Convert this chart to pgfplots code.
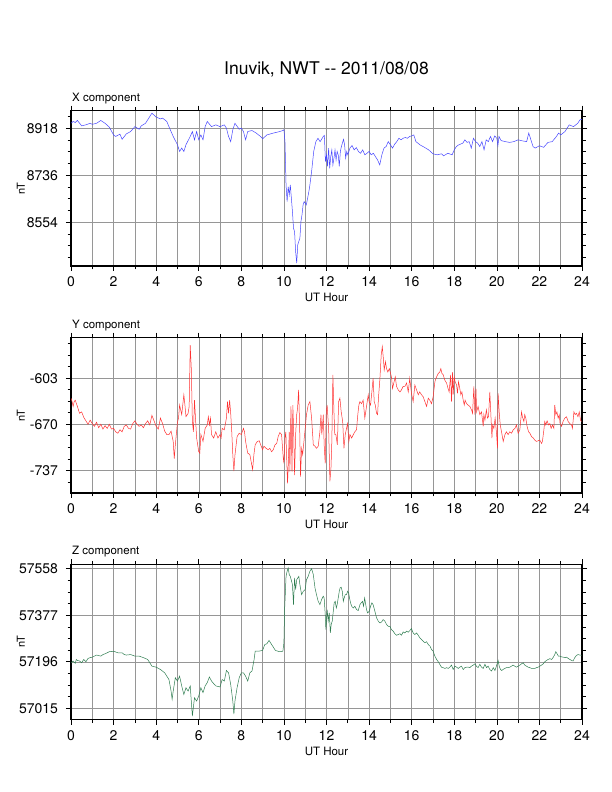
\documentclass[border=0pt]{standalone}
\usepackage{pgfplots}
\pgfplotsset{compat=1.18}
\usepackage{pgfplotstable}
\usepackage{fontspec}
\setmainfont{TeX Gyre Heros}
\definecolor{xcol}{RGB}{70,70,255}
\definecolor{ycol}{RGB}{255,50,50}
\definecolor{zcol}{RGB}{46,125,80}
\definecolor{gridc}{RGB}{150,150,150}

\pgfplotstableread{
h v
0 8937
0.1 8944
0.2 8940
0.3 8948
0.5 8927
0.7 8931
0.9 8937
1.0 8933
1.2 8937
1.4 8948
1.6 8937
1.8 8922
2.0 8892
2.1 8886
2.3 8895
2.4 8875
2.6 8896
2.8 8905
3.0 8924
3.2 8914
3.3 8927
3.5 8937
3.7 8963
3.8 8976
4.0 8961
4.2 8954
4.3 8957
4.5 8944
4.6 8924
4.8 8886
5.0 8854
5.1 8828
5.2 8841
5.3 8828
5.4 8854
5.6 8886
5.7 8905
5.8 8873
5.9 8905
6.0 8873
6.1 8892
6.2 8873
6.3 8924
6.4 8944
6.6 8924
6.8 8931
7.0 8924
7.2 8931
7.3 8918
7.4 8886
7.5 8866
7.6 8912
7.7 8937
7.9 8914
8.0 8918
8.1 8905
8.2 8873
8.3 8905
8.5 8909
8.7 8899
8.9 8886
9.0 8877
9.2 8892
9.5 8899
9.8 8905
9.95 8909
10.0 8912
10.05 8866
10.1 8699
10.15 8634
10.2 8692
10.25 8660
10.3 8699
10.35 8647
10.4 8596
10.45 8531
10.5 8518
10.55 8441
10.6 8396
10.65 8467
10.7 8480
10.75 8492
10.8 8557
10.85 8583
10.9 8621
10.95 8634
11.0 8628
11.05 8621
11.1 8641
11.2 8686
11.3 8750
11.4 8828
11.5 8866
11.6 8879
11.7 8866
11.8 8879
11.85 8886
11.9 8890
11.95 8789
12.0 8815
12.05 8770
12.1 8841
12.15 8763
12.2 8808
12.25 8834
12.3 8776
12.35 8802
12.4 8834
12.45 8795
12.5 8828
12.55 8815
12.6 8770
12.65 8828
12.7 8847
12.8 8875
12.85 8854
12.9 8802
12.95 8828
13.0 8815
13.1 8841
13.2 8851
13.3 8834
13.4 8843
13.5 8828
13.6 8821
13.7 8834
13.8 8815
13.9 8821
14.0 8828
14.1 8815
14.2 8821
14.3 8808
14.4 8795
14.5 8776
14.6 8815
14.7 8841
14.8 8847
14.9 8866
15.0 8854
15.1 8841
15.2 8856
15.3 8866
15.4 8879
15.5 8873
15.6 8879
15.7 8882
15.8 8879
15.9 8886
16.0 8888
16.1 8892
16.2 8866
16.4 8853
16.6 8844
16.8 8834
17.0 8819
17.2 8815
17.4 8819
17.5 8811
17.7 8821
17.9 8815
18.0 8834
18.1 8847
18.2 8853
18.4 8860
18.5 8873
18.6 8863
18.7 8866
18.8 8841
18.9 8879
19.0 8866
19.1 8860
19.2 8847
19.3 8866
19.4 8834
19.5 8873
19.6 8866
19.7 8886
19.8 8866
19.9 8888
20.0 8879
20.05 8850
20.1 8886
20.2 8870
20.4 8866
20.6 8863
20.8 8866
21.0 8873
21.2 8869
21.4 8866
21.5 8899
21.6 8873
21.7 8847
21.8 8841
22.0 8850
22.2 8844
22.4 8863
22.6 8866
22.8 8886
22.9 8899
23.0 8892
23.2 8905
23.4 8931
23.6 8924
23.8 8937
23.9 8950
24.0 8953
}\xdata

\pgfplotstableread{
h v
0.0 -632
0.05 -637
0.1 -644
0.15 -637
0.2 -635
0.3 -644
0.4 -654
0.5 -652
0.6 -660
0.7 -665
0.8 -670
0.9 -664
1.0 -669
1.1 -673
1.2 -667
1.3 -675
1.4 -670
1.5 -677
1.6 -672
1.7 -676
1.8 -670
1.9 -677
2.0 -676
2.1 -681
2.2 -683
2.3 -678
2.4 -681
2.5 -673
2.6 -671
2.7 -676
2.8 -677
2.9 -669
3.0 -665
3.1 -670
3.2 -673
3.3 -671
3.4 -675
3.5 -669
3.6 -665
3.7 -671
3.8 -657
3.9 -665
4.0 -673
4.1 -677
4.2 -661
4.3 -669
4.4 -680
4.5 -685
4.6 -685
4.7 -680
4.8 -695
4.85 -720
4.9 -700
5.0 -667
5.05 -661
5.1 -642
5.2 -656
5.3 -627
5.35 -642
5.4 -659
5.5 -654
5.55 -644
5.6 -555
5.65 -589
5.7 -666
5.75 -681
5.8 -635
5.9 -690
6.0 -710
6.05 -712
6.1 -685
6.2 -695
6.3 -676
6.4 -671
6.45 -659
6.5 -671
6.55 -661
6.6 -685
6.7 -690
6.8 -681
6.9 -690
7.0 -685
7.05 -690
7.1 -676
7.2 -678
7.3 -661
7.35 -637
7.4 -654
7.45 -635
7.5 -654
7.55 -681
7.6 -715
7.65 -738
7.7 -715
7.8 -688
7.9 -683
8.0 -685
8.1 -676
8.15 -681
8.2 -695
8.3 -712
8.4 -714
8.53 -736
8.59 -714
8.65 -700
8.75 -695
8.84 -694
8.91 -700
9.0 -707
9.06 -702
9.16 -705
9.26 -707
9.34 -705
9.42 -710
9.50 -707
9.58 -700
9.66 -698
9.73 -688
9.81 -682
9.89 -685
9.97 -719
10.0 -727
10.05 -690
10.09 -681
10.13 -719
10.17 -756
10.20 -734
10.25 -681
10.28 -739
10.33 -644
10.38 -739
10.42 -642
10.46 -685
10.50 -744
10.55 -685
10.60 -656
10.64 -647
10.69 -620
10.74 -676
10.78 -746
10.83 -705
10.88 -714
10.94 -695
11.0 -676
11.06 -656
11.14 -642
11.22 -637
11.30 -661
11.38 -700
11.46 -702
11.53 -705
11.61 -702
11.69 -681
11.74 -656
11.78 -685
11.85 -656
11.89 -700
11.94 -727
11.99 -652
12.03 -642
12.10 -676
12.16 -753
12.21 -734
12.25 -695
12.30 -598
12.35 -652
12.39 -685
12.44 -685
12.51 -700
12.57 -637
12.63 -632
12.69 -652
12.76 -666
12.82 -705
12.88 -685
12.94 -676
12.99 -669
13.05 -695
13.10 -685
13.18 -690
13.26 -685
13.33 -681
13.41 -678
13.47 -656
13.52 -642
13.57 -637
13.65 -640
13.72 -635
13.80 -661
13.88 -644
13.96 -627
14.0 -637
14.07 -642
14.13 -623
14.19 -603
14.24 -637
14.29 -642
14.35 -654
14.40 -656
14.44 -632
14.51 -603
14.57 -569
14.62 -557
14.67 -574
14.71 -591
14.77 -579
14.82 -589
14.88 -594
14.95 -589
15.01 -596
15.06 -603
15.10 -618
15.16 -610
15.23 -601
15.29 -615
15.37 -620
15.45 -623
15.52 -620
15.60 -615
15.68 -615
15.76 -610
15.84 -623
15.91 -603
15.99 -625
16.07 -637
16.15 -613
16.23 -620
16.31 -627
16.38 -623
16.46 -627
16.54 -630
16.62 -637
16.70 -644
16.78 -632
16.85 -635
16.93 -640
17.01 -630
17.09 -608
17.17 -601
17.25 -596
17.32 -594
17.37 -589
17.42 -596
17.48 -598
17.56 -606
17.64 -610
17.71 -618
17.76 -623
17.83 -598
17.87 -637
17.92 -594
17.95 -627
18.0 -601
18.04 -608
18.11 -613
18.15 -625
18.20 -608
18.26 -618
18.31 -627
18.36 -623
18.42 -635
18.47 -642
18.51 -635
18.58 -640
18.65 -642
18.73 -644
18.81 -649
18.86 -654
18.92 -615
18.97 -656
19.02 -618
19.05 -652
19.12 -644
19.20 -656
19.28 -652
19.36 -673
19.39 -656
19.44 -664
19.51 -649
19.56 -661
19.61 -659
19.67 -623
19.72 -656
19.77 -690
19.80 -671
19.86 -676
19.92 -661
19.99 -685
20.03 -705
20.06 -625
20.11 -652
20.16 -671
20.22 -681
20.30 -695
20.38 -685
20.45 -681
20.53 -685
20.61 -681
20.69 -683
20.77 -678
20.85 -676
20.92 -671
21.0 -683
21.08 -678
21.16 -652
21.20 -659
21.27 -666
21.31 -656
21.36 -661
21.42 -673
21.49 -681
21.55 -683
21.63 -688
21.71 -690
21.78 -693
21.86 -695
21.94 -694
22.02 -693
22.10 -698
22.14 -695
22.21 -678
22.25 -666
22.30 -671
22.36 -665
22.43 -671
22.49 -669
22.55 -676
22.61 -671
22.68 -676
22.72 -642
22.77 -656
22.82 -652
22.88 -661
22.93 -656
22.97 -669
23.04 -673
23.11 -666
23.19 -661
23.27 -659
23.35 -666
23.43 -669
23.51 -671
23.55 -676
23.62 -652
23.68 -656
23.74 -654
23.81 -659
23.87 -652
23.93 -664
23.98 -666
}\ydata

\pgfplotstableread{
h v
0.0 57192
0.1 57199
0.2 57190
0.25 57205
0.3 57201
0.4 57199
0.5 57192
0.6 57205
0.7 57196
0.8 57209
0.9 57212
1.0 57214
1.2 57222
1.4 57218
1.5 57224
1.6 57227
1.7 57231
1.8 57235
2.0 57237
2.2 57231
2.4 57231
2.5 57224
2.6 57222
2.8 57224
3.0 57218
3.2 57218
3.4 57212
3.6 57205
3.7 57192
3.8 57179
4.0 57175
4.2 57166
4.4 57153
4.5 57140
4.6 57127
4.7 57082
4.75 57050
4.8 57082
4.9 57134
5.0 57121
5.1 57140
5.2 57102
5.3 57069
5.4 57095
5.5 57082
5.6 57102
5.65 57043
5.7 56985
5.8 57056
5.9 57043
6.0 57063
6.1 57095
6.2 57076
6.3 57102
6.4 57115
6.5 57137
6.6 57121
6.7 57111
6.8 57102
7.0 57098
7.1 57127
7.2 57121
7.3 57162
7.4 57153
7.5 57108
7.6 57043
7.65 56992
7.7 57043
7.8 57095
7.9 57134
8.0 57153
8.1 57153
8.2 57140
8.3 57121
8.4 57153
8.5 57160
8.6 57205
8.65 57237
8.8 57237
9.0 57240
9.1 57263
9.2 57266
9.3 57279
9.4 57266
9.5 57253
9.6 57240
9.8 57235
9.95 57237
10.0 57270
10.03 57393
10.1 57528
10.15 57548
10.2 57561
10.25 57535
10.3 57528
10.4 57496
10.45 57418
10.5 57522
10.55 57477
10.6 57515
10.7 57528
10.75 57496
10.83 57457
10.91 57470
11.0 57477
11.06 57515
11.14 57528
11.22 57548
11.30 57558
11.38 57535
11.46 57483
11.53 57457
11.61 57431
11.69 57418
11.77 57438
11.85 57451
11.89 57444
11.94 57380
11.97 57321
12.0 57354
12.03 57399
12.08 57354
12.13 57386
12.18 57308
12.22 57341
12.27 57354
12.32 57393
12.36 57425
12.41 57431
12.46 57405
12.50 57418
12.55 57444
12.60 57470
12.64 57483
12.69 57486
12.74 57470
12.79 57431
12.83 57444
12.88 57457
12.94 57457
12.99 57470
13.04 57464
13.08 57444
13.13 57425
13.18 57412
13.26 57405
13.33 57412
13.41 57399
13.49 57395
13.57 57418
13.63 57425
13.69 57431
13.74 57412
13.79 57444
13.83 57425
13.88 57399
13.93 57386
14.01 57393
14.07 57412
14.13 57425
14.19 57418
14.27 57393
14.35 57367
14.43 57354
14.51 57347
14.59 57351
14.66 57360
14.74 57354
14.82 57341
14.90 57334
14.98 57334
15.05 57321
15.13 57315
15.21 57305
15.29 57299
15.37 57302
15.45 57305
15.52 57299
15.60 57312
15.68 57308
15.76 57315
15.84 57311
15.92 57318
15.99 57325
16.07 57308
16.15 57302
16.23 57308
16.31 57299
16.38 57289
16.46 57283
16.54 57276
16.62 57270
16.70 57274
16.78 57263
16.86 57257
16.93 57244
17.01 57237
17.09 57218
17.17 57205
17.25 57196
17.32 57186
17.40 57175
17.48 57173
17.56 57170
17.64 57173
17.72 57170
17.79 57175
17.87 57183
17.95 57166
18.03 57179
18.11 57175
18.19 57170
18.26 57175
18.34 57179
18.42 57166
18.50 57173
18.58 57175
18.66 57175
18.73 57173
18.81 57179
18.89 57183
18.97 57188
19.04 57179
19.12 57173
19.20 57186
19.28 57175
19.36 57170
19.44 57186
19.52 57173
19.59 57179
19.67 57166
19.75 57160
19.83 57173
19.91 57162
19.98 57179
20.06 57201
20.11 57179
20.17 57166
20.23 57162
20.29 57166
20.37 57170
20.45 57173
20.53 57173
20.61 57175
20.69 57179
20.76 57183
20.84 57179
20.92 57175
21.0 57179
21.08 57183
21.16 57188
21.24 57192
21.31 57183
21.39 57179
21.47 57175
21.55 57173
21.63 57170
21.71 57170
21.78 57170
21.86 57173
21.94 57175
22.02 57179
22.10 57183
22.18 57188
22.25 57196
22.33 57201
22.41 57205
22.49 57208
22.57 57205
22.64 57212
22.72 57224
22.77 57235
22.83 57227
22.89 57218
22.96 57218
23.04 57215
23.12 57214
23.19 57212
23.27 57214
23.35 57209
23.43 57205
23.51 57201
23.58 57199
23.66 57212
23.74 57221
23.82 57224
23.90 57222
23.98 57221
}\zdata

\pgfplotsset{
  panel/.style={
    scale only axis,
    width=511pt,
    height=155.4pt,
    anchor=south west,
    xmin=0, xmax=24,
    xtick={0,2,...,24},
    minor xtick={1,3,...,23},
    tick align=outside,
    tick pos=both,
    xticklabel pos=bottom,
    yticklabel pos=left,
    major tick length=5pt,
    minor tick length=3.5pt,
    xmajorgrids, xminorgrids, ymajorgrids,
    grid style={gridc, line width=0.5pt},
    minor grid style={gridc, line width=0.5pt},
    every tick/.style={black, line width=0.6pt},
    axis line style={black, line width=1.3pt},
    ticklabel style={font=\fontsize{14}{16}\selectfont},
    /pgf/number format/assume math mode=true,
    scaled y ticks=false,
    xticklabel style={anchor=base, yshift=-15.5pt},
    yticklabel style={anchor=east, xshift=-4.5pt},
    xlabel={UT Hour},
    xlabel style={at={(axis description cs:0.5,0)}, anchor=base, yshift=-35.7pt, inner sep=0pt, font=\fontsize{11.5}{13}\selectfont},
    ylabel={nT},
    ylabel style={at={(axis description cs:0,0.5)}, anchor=base, yshift=46pt, inner sep=0pt, font=\fontsize{11}{13}\selectfont},
    title style={at={(axis description cs:0,1)}, anchor=base west, yshift=3.5pt, xshift=1pt, inner sep=0pt, font=\fontsize{11.5}{13}\selectfont},
    clip=true,
  }
}

\begin{document}
\begin{tikzpicture}
\path[use as bounding box] (0,0) rectangle (612pt,792pt);
\node[anchor=base, inner sep=0pt, font=\fontsize{17.5}{20}\selectfont] at (326.5pt,717pt) {Inuvik, NWT -{}- 2011/08/08};

\begin{axis}[panel, at={(71pt,526pt)},
  ymin=8384.8, ymax=8986.1,
  ytick={8554,8736,8918}, yticklabels={8554,8736,8918},
  minor ytick={8417.5,8463,8508.5,8599.5,8645,8690.5,8781.5,8827,8872.5,8963.5},
  title={X component}]
\addplot[xcol, line width=0.5pt] table[x=h,y=v] {\xdata};
\end{axis}

\begin{axis}[panel, at={(71pt,299pt)},
  ymin=-770, ymax=-543.9,
  ytick={-737,-670,-603}, yticklabels={-737,-670,-603},
  minor ytick={-753.75,-720.25,-703.5,-686.75,-653.25,-636.5,-619.75,-586.25,-569.5,-552.75},
  title={Y component}]
\addplot[ycol, line width=0.5pt] table[x=h,y=v] {\ydata};
\end{axis}

\begin{axis}[panel, at={(71pt,72.3pt)},
  ymin=56970.7, ymax=57575,
  ytick={57015,57196,57377,57558}, yticklabels={57015,57196,57377,57558},
  minor ytick={57060.25,57105.5,57150.75,57241.25,57286.5,57331.75,57422.25,57467.5,57512.75},
  title={Z component}]
\addplot[zcol, line width=0.5pt] table[x=h,y=v] {\zdata};
\end{axis}
\end{tikzpicture}
\end{document}
